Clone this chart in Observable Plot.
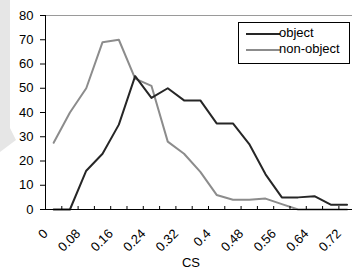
<!DOCTYPE html>
<html>
<head>
<meta charset="utf-8">
<script src="https://cdn.jsdelivr.net/npm/d3@7"></script>
<script src="https://cdn.jsdelivr.net/npm/@observablehq/plot@0.6"></script>
<style>
  html, body { margin: 0; padding: 0; background: #fff; overflow: hidden; }
  #wrap { position: relative; width: 352px; height: 268px; font-family: "Liberation Sans", Arial, sans-serif; }
  #band { position: absolute; left: 0; top: 0; width: 20px; height: 152px; background: #e6e6e6;
          clip-path: polygon(0 0, 10px 0, 10px 128px, 16px 140px, 0 152px); }
  #chart { position: absolute; left: 0; top: 0; }
  #chart svg { background: transparent !important; }
  #legend { position: absolute; left: 238px; top: 22px; width: 110px; height: 40px; border: 1px solid #000;
            background: #fff; font-size: 13px; color: #000; }
  .row { position: absolute; left: 0; height: 16px; width: 110px; }
  .sw { position: absolute; left: 7px; width: 34px; height: 2px; }
  .lab { position: absolute; left: 40px; line-height: 14px; }
</style>
</head>
<body>
<div id="wrap">
  <div id="band"></div>
  <div id="chart"></div>
  <div id="legend"></div>
</div>
<script>
// Categories (CS), values
const cats = [0, 0.04, 0.08, 0.12, 0.16, 0.2, 0.24, 0.28, 0.32, 0.36, 0.4, 0.44, 0.48, 0.52, 0.56, 0.6, 0.64, 0.68, 0.72];
const objectVals = [0, 0, 16, 23, 35, 55, 46, 50, 45, 45, 35.5, 35.5, 27, 14.5, 5, 5, 5.5, 2, 2];
const nonObjectVals = [27.5, 40, 50, 69, 70, 54, 51, 28, 23, 15.5, 6, 4, 4, 4.5, 2.2, 0, 0, 0, 0];
const seriesNames = ["object", "non-object"];
const seriesColors = ["#262626", "#8c8c8c"];
const yTicks = [0, 10, 20, 30, 40, 50, 60, 70, 80];
const xLabels = [0, 0.08, 0.16, 0.24, 0.32, 0.4, 0.48, 0.56, 0.64, 0.72];
const step = 0.04;

const objData = cats.map((c, i) => ({cs: c, v: objectVals[i]}));
const nonData = cats.map((c, i) => ({cs: c, v: nonObjectVals[i]}));
const bounds = cats.map(c => c - step / 2).concat([cats[cats.length - 1] + step / 2]);

const plot = Plot.plot({
  width: 352,
  height: 268,
  marginLeft: 45,
  marginRight: 0,
  marginTop: 15,
  marginBottom: 59,
  style: {fontFamily: "'Liberation Sans', Arial, sans-serif", fontSize: "13px", background: "transparent", color: "#000"},
  x: {domain: [-0.02, 0.7334]},
  y: {domain: [0, 80]},
  marks: [
    Plot.ruleY([80], {stroke: "#9a9a9a", strokeWidth: 1}),
    Plot.line(nonData, {x: "cs", y: "v", stroke: seriesColors[1], strokeWidth: 2}),
    Plot.line(objData, {x: "cs", y: "v", stroke: seriesColors[0], strokeWidth: 2}),
    Plot.ruleY([0], {stroke: "#000", strokeWidth: 1}),
    Plot.ruleX([-0.02], {stroke: "#000", strokeWidth: 1}),
    Plot.ruleX(bounds.slice(1), {y1: 0, y2: 0, insetTop: -3, stroke: "#000"}),
    Plot.axisY({ticks: yTicks, tickSize: 5, tickPadding: 7, label: null, fontSize: 13, stroke: "#000"}),
    Plot.axisX({ticks: xLabels, tickSize: 0, tickPadding: 22, tickRotate: -45, label: null, fontSize: 13,
                tickFormat: d => String(d), dx: -8}),
    Plot.text(["CS"], {text: d => d, frameAnchor: "bottom", dx: -8, dy: 57, fontSize: 13})
  ]
});
document.getElementById("chart").appendChild(plot);

// Legend
const legend = document.getElementById("legend");
seriesNames.forEach((name, i) => {
  const row = document.createElement("div");
  row.className = "row";
  row.style.top = (i === 0 ? 3 : 19) + "px";
  const sw = document.createElement("div");
  sw.className = "sw";
  sw.style.background = seriesColors[i];
  sw.style.top = "7px";
  const lab = document.createElement("div");
  lab.className = "lab";
  lab.style.top = "0px";
  lab.textContent = name;
  row.appendChild(sw);
  row.appendChild(lab);
  legend.appendChild(row);
});
</script>
</body>
</html>
